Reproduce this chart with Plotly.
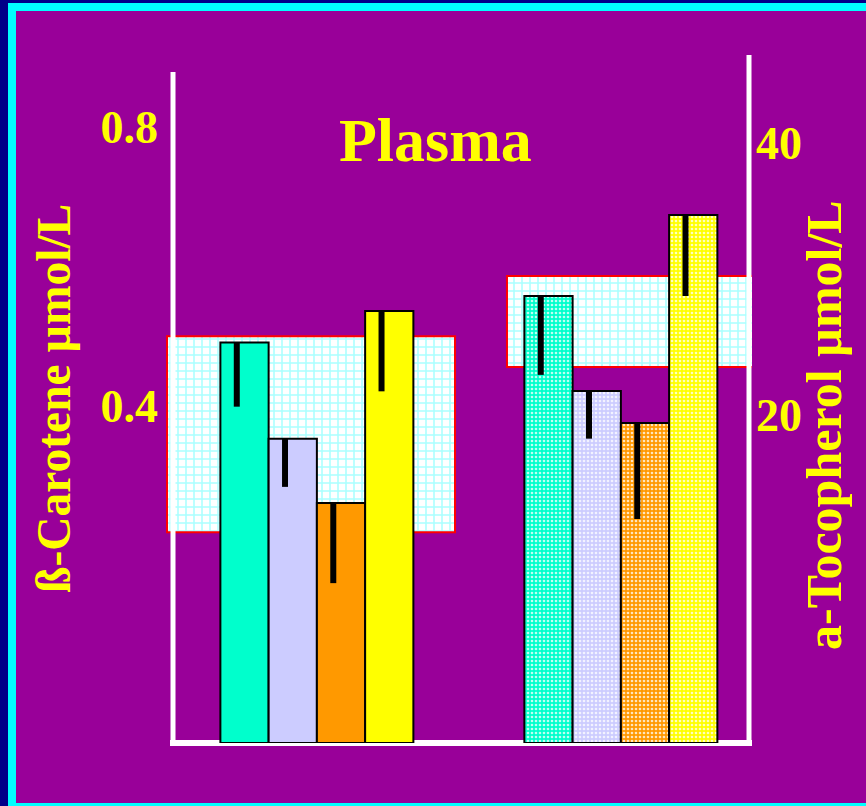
import plotly.graph_objects as go

# ---------------- data ----------------
series_names = ["Group A", "Group B", "Group C", "Group D"]
series_colors = ["#00FFCC", "#CCCCFF", "#FF9900", "#FFFF00"]

carotene_values = [0.491, 0.353, 0.261, 0.536]      # µmol/L
carotene_err = [0.092, 0.069, 0.115, 0.115]
tocopherol_values = [28.75, 21.76, 19.41, 34.71]    # µmol/L
tocopherol_err = [5.8, 3.5, 7.06, 5.96]

carotene_ref = [0.219, 0.500]     # reference range (low, high)
tocopherol_ref = [23.53, 30.22]

left_ticks = [0.4, 0.8]
right_ticks = [20, 40]

title_text = "Plasma"
left_title = "ß-Carotene µmol/L"
right_title = "a-Tocopherol µmol/L"

# ---------------- layout helpers ----------------
W, H = 866, 806
PL, PR, PT, PB = 166, 752, 55, 743   # plot area in pixels


def px(p):
    return (p - PL) / (PR - PL)


def py(p):
    return (PB - p) / (PB - PT)


Y1_RANGE = [-0.0832, 0.9032]
Y2_RANGE = [-4.118, 46.47]
X_RANGE = [-1.627, 10.518]
GROUP_GAP = 6.3
ERR_SHIFT = -0.16

BG = "#990099"
YEL = "#FFFF00"
FONT = "Liberation Serif, Times New Roman, serif"

fig = go.Figure()

# reference range boxes (drawn first, behind bars)
box_pattern = dict(shape="+", fgcolor="#55FFFF", bgcolor="#FFFFFF", size=8, solidity=0.35)
fig.add_trace(go.Bar(
    x=[1.378], y=[carotene_ref[1] - carotene_ref[0]], base=[carotene_ref[0]], width=[5.969],
    marker=dict(color="#FFFFFF", pattern=box_pattern, line=dict(color="#FF0000", width=2)),
    yaxis="y", showlegend=False, hoverinfo="skip"))
fig.add_trace(go.Bar(
    x=[8.0], y=[tocopherol_ref[1] - tocopherol_ref[0]], base=[tocopherol_ref[0]], width=[5.12],
    marker=dict(color="#FFFFFF", pattern=box_pattern, line=dict(color="#FF0000", width=2)),
    yaxis="y2", showlegend=False, hoverinfo="skip"))

# bars
for i, (name, col) in enumerate(zip(series_names, series_colors)):
    fig.add_trace(go.Bar(
        x=[i], y=[carotene_values[i] - Y1_RANGE[0]], base=[Y1_RANGE[0]], width=[1.0],
        name=name, marker=dict(color=col, line=dict(color="#000000", width=2)),
        yaxis="y", showlegend=False))
    fig.add_trace(go.Bar(
        x=[GROUP_GAP + i], y=[tocopherol_values[i] - Y2_RANGE[0]], base=[Y2_RANGE[0]], width=[1.0],
        name=name, marker=dict(color=col, line=dict(color="#000000", width=2),
                               pattern=dict(shape=".", fgcolor="#FFFFFF", bgcolor=col,
                                            size=4, solidity=0.35, fgopacity=0.75)),
        yaxis="y2", showlegend=False))

# error bars (downward only)
fig.add_trace(go.Scatter(
    x=[i + ERR_SHIFT for i in range(4)], y=carotene_values, mode="markers",
    marker=dict(size=1, color="rgba(0,0,0,0)"),
    error_y=dict(type="data", symmetric=False, array=[0] * 4, arrayminus=carotene_err,
                 color="#000000", thickness=6, width=0),
    yaxis="y", showlegend=False, hoverinfo="skip"))
fig.add_trace(go.Scatter(
    x=[GROUP_GAP + i + ERR_SHIFT for i in range(4)], y=tocopherol_values, mode="markers",
    marker=dict(size=1, color="rgba(0,0,0,0)"),
    error_y=dict(type="data", symmetric=False, array=[0] * 4, arrayminus=tocopherol_err,
                 color="#000000", thickness=6, width=0),
    yaxis="y2", showlegend=False, hoverinfo="skip"))

tickfont = dict(family=FONT, size=46, color=YEL, weight="bold")

shapes = [
    # frame
    dict(type="rect", x0=px(0), x1=px(8), y0=py(0), y1=py(806), fillcolor="#000088", line_width=0),
    dict(type="rect", x0=px(0), x1=px(866), y0=py(0), y1=py(3), fillcolor="#000088", line_width=0),
    dict(type="rect", x0=px(8), x1=px(16), y0=py(3), y1=py(806), fillcolor="#00FFFF", line_width=0),
    dict(type="rect", x0=px(8), x1=px(866), y0=py(3), y1=py(11), fillcolor="#00FFFF", line_width=0),
    dict(type="rect", x0=px(16), x1=px(866), y0=py(803), y1=py(806), fillcolor="#00FFFF", line_width=0),
    # axis lines
    dict(type="line", x0=px(170), x1=px(752), y0=py(743), y1=py(743),
         line=dict(color="#FFFFFF", width=6), layer="below"),
    dict(type="line", x0=px(173), x1=px(173), y0=py(72), y1=py(746),
         line=dict(color="#FFFFFF", width=5), layer="above"),
    dict(type="line", x0=px(749), x1=px(749), y0=py(55), y1=py(746),
         line=dict(color="#FFFFFF", width=5), layer="above"),
]
for s in shapes:
    s["xref"] = "paper"
    s["yref"] = "paper"

annotations = [
    dict(text=title_text, x=px(435), y=py(140), xref="paper", yref="paper",
         xanchor="center", yanchor="middle", showarrow=False,
         font=dict(family=FONT, size=62, color=YEL, weight="bold")),
    dict(text=left_title, x=px(54), y=py(399), xref="paper", yref="paper",
         xanchor="center", yanchor="middle", showarrow=False, textangle=-90,
         font=dict(family=FONT, size=47.5, color=YEL, weight="bold")),
    dict(text=right_title, x=px(824), y=py(425), xref="paper", yref="paper",
         xanchor="center", yanchor="middle", showarrow=False, textangle=-90,
         font=dict(family=FONT, size=50, color=YEL, weight="bold")),
]

fig.update_layout(
    width=W, height=H,
    margin=dict(l=PL, r=W - PR, t=PT, b=H - PB, pad=0),
    paper_bgcolor=BG, plot_bgcolor=BG,
    barmode="overlay",
    showlegend=False,
    xaxis=dict(range=X_RANGE, showgrid=False, zeroline=False, showline=False,
               showticklabels=False, ticks=""),
    yaxis=dict(range=Y1_RANGE, tickvals=left_ticks, ticktext=[str(v) for v in left_ticks],
               showgrid=False, zeroline=False, showline=False,
               ticks="", ticklabelstandoff=7, tickfont=tickfont),
    yaxis2=dict(range=Y2_RANGE, tickvals=right_ticks, ticktext=[str(v) for v in right_ticks],
                overlaying="y", side="right",
                showgrid=False, zeroline=False, showline=False,
                ticks="", ticklabelstandoff=3, tickfont=tickfont),
    shapes=shapes,
    annotations=annotations,
)

fig.write_html("out.html", config={"displayModeBar": False},
               post_script="document.body.style.margin='0';document.body.style.overflow='hidden';")
